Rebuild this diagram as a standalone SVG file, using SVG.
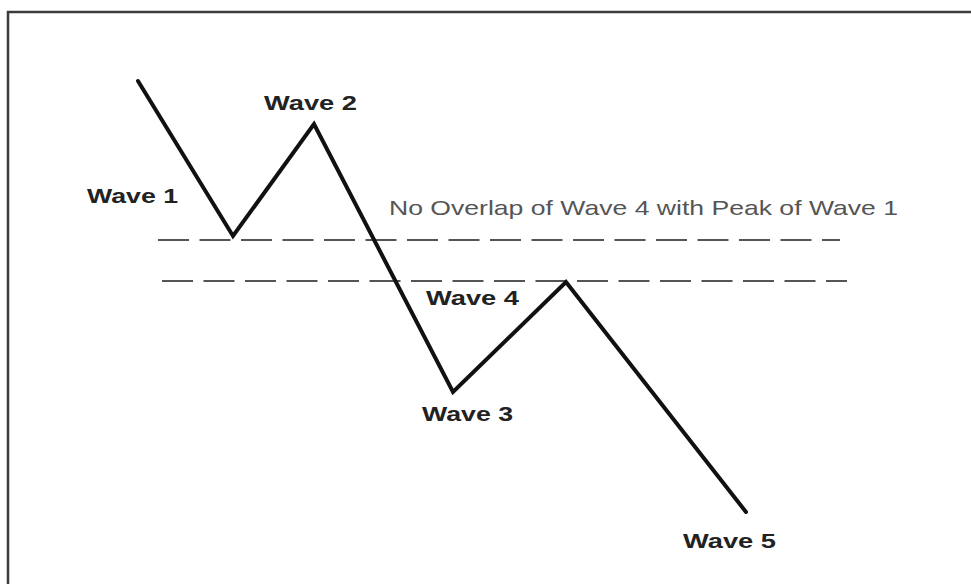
<svg xmlns="http://www.w3.org/2000/svg" width="971" height="584" viewBox="0 0 971 584">
<style>
.lbl{font-family:"Liberation Sans",Arial,sans-serif;font-weight:bold;font-size:21px;fill:#222}
.note{font-family:"Liberation Sans",Arial,sans-serif;font-size:21px;fill:#555}
.dash{stroke:#555;stroke-width:2;stroke-dasharray:31 10.5;fill:none}
.wave{stroke:#111;stroke-width:4;fill:none;stroke-linejoin:miter;stroke-linecap:round}
</style>
<rect x="0" y="0" width="971" height="584" fill="#fff"/>
<rect id="frame" x="8" y="12" width="990" height="600" fill="none" stroke="#3c3c3c" stroke-width="2.5"/>
<g id="connectors">
<line class="dash" x1="158" y1="240" x2="840" y2="240"/>
<line class="dash" x1="162" y1="281" x2="847" y2="281"/>
<polyline class="wave" points="138,81 233,236 314,124 453,392 566,282 746,512"/>
</g>
<g id="wave1"><text class="lbl" x="87" y="203" textLength="91" lengthAdjust="spacingAndGlyphs">Wave 1</text></g>
<g id="wave2"><text class="lbl" x="264" y="110" textLength="93" lengthAdjust="spacingAndGlyphs">Wave 2</text></g>
<g id="wave3"><text class="lbl" x="422" y="421" textLength="91" lengthAdjust="spacingAndGlyphs">Wave 3</text></g>
<g id="wave4"><text class="lbl" x="426" y="305" textLength="93" lengthAdjust="spacingAndGlyphs">Wave 4</text></g>
<g id="wave5"><text class="lbl" x="683" y="548" textLength="93" lengthAdjust="spacingAndGlyphs">Wave 5</text></g>
<g id="note"><text class="note" x="389" y="215" textLength="509" lengthAdjust="spacingAndGlyphs">No Overlap of Wave 4 with Peak of Wave 1</text></g>
</svg>
